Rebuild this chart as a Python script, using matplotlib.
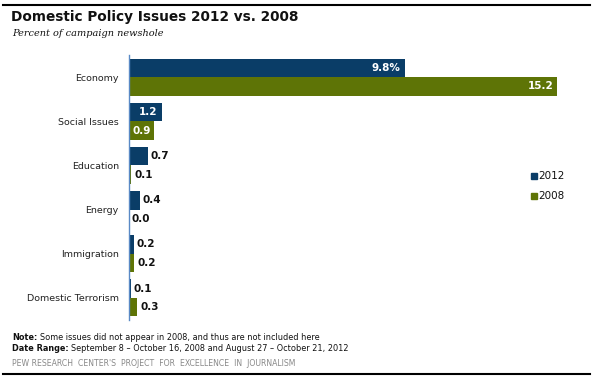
import matplotlib
matplotlib.use("Agg")
import matplotlib.pyplot as plt
from matplotlib.lines import Line2D
from matplotlib.patches import Rectangle

categories = ["Economy", "Social Issues", "Education", "Energy", "Immigration", "Domestic Terrorism"]
values_2012 = [9.8, 1.2, 0.7, 0.4, 0.2, 0.1]
values_2008 = [15.2, 0.9, 0.1, 0.0, 0.2, 0.3]
labels_2012 = ["9.8%", "1.2", "0.7", "0.4", "0.2", "0.1"]
labels_2008 = ["15.2", "0.9", "0.1", "0.0", "0.2", "0.3"]
series_names = ["2012", "2008"]

C2012 = "#0a3d67"
C2008 = "#5e7406"

W, H = 592, 382
fig = plt.figure(figsize=(W / 100, H / 100), dpi=100)

def fx(px):
    return px / W

def fy(py):
    return 1 - py / H

# axes: left 128.5 px, right 580 px; top 55 px, bottom 320 px
left, right, top, bottom = 128.5, 580.0, 55.0, 320.0
ax = fig.add_axes([fx(left), fy(bottom), fx(right - left), (bottom - top) / H])
scale = 28.2  # px per unit
ax.set_xlim(0, (right - left) / scale)
ax.set_ylim(5.5, -0.5)

bh = 0.42
ys = list(range(len(categories)))
ax.barh([y - bh / 2 for y in ys], values_2012, height=bh, color=C2012, label=series_names[0])
ax.barh([y + bh / 2 for y in ys], values_2008, height=bh, color=C2008, label=series_names[1])

fs_val = 7.5
for y, v, lab in zip(ys, values_2012, labels_2012):
    if v >= 1.0:
        ax.text(v - 0.17, y - bh / 2, lab, color="white", fontsize=fs_val, fontweight="bold",
                ha="right", va="center")
    else:
        ax.text(v + 0.08, y - bh / 2, lab, color="#111111", fontsize=fs_val, fontweight="bold",
                ha="left", va="center")
for y, v, lab in zip(ys, values_2008, labels_2008):
    if v >= 0.85:
        ax.text(v - 0.12, y + bh / 2, lab, color="white", fontsize=fs_val, fontweight="bold",
                ha="right", va="center")
    else:
        ax.text(v + 0.12, y + bh / 2, lab, color="#111111", fontsize=fs_val, fontweight="bold",
                ha="left", va="center")

ax.set_yticks(ys)
ax.set_yticklabels(categories, fontsize=6.8, color="#222222")
ax.tick_params(axis="y", length=0, pad=7)
ax.set_xticks([])
for s in ["top", "right", "bottom"]:
    ax.spines[s].set_visible(False)
ax.spines["left"].set_color("#5a8ac6")
ax.spines["left"].set_linewidth(1.0)

# legend
for i, (name, c) in enumerate(zip(series_names, [C2012, C2008])):
    ypx = 176 + 19.5 * i
    fig.patches.append(Rectangle((fx(531), fy(ypx + 3)), 6 / W, 6 / H, transform=fig.transFigure,
                                 color=c, figure=fig))
    fig.text(fx(538.5), fy(ypx), name, fontsize=7.5, color="#111111", va="center", ha="left")

# rules
fig.add_artist(Line2D([fx(3), fx(590)], [fy(5), fy(5)], color="black", lw=1.5, transform=fig.transFigure))
fig.add_artist(Line2D([fx(3), fx(590)], [fy(374), fy(374)], color="black", lw=1.5, transform=fig.transFigure))

# titles
fig.text(fx(11), fy(17.5), "Domestic Policy Issues 2012 vs. 2008", fontsize=9.8, fontweight="bold",
         color="#111111", va="center", ha="left")
fig.text(fx(12), fy(33), "Percent of campaign newshole", fontsize=7.0, style="italic",
         family="DejaVu Serif", color="#111111", va="center", ha="left")

# notes
fig.text(fx(12), fy(337), "Note:", fontsize=5.9, fontweight="bold", color="#111111", va="center")
fig.text(fx(40), fy(337), "Some issues did not appear in 2008, and thus are not included here",
         fontsize=5.9, color="#111111", va="center")
fig.text(fx(12), fy(348.5), "Date Range:", fontsize=5.9, fontweight="bold", color="#111111", va="center")
fig.text(fx(71), fy(348.5), "September 8 \u2013 October 16, 2008 and August 27 \u2013 October 21, 2012",
         fontsize=5.9, color="#111111", va="center")
fig.text(fx(12), fy(363), "PEW RESEARCH  CENTER'S  PROJECT  FOR  EXCELLENCE  IN  JOURNALISM",
         fontsize=5.6, color="#888888", va="center")

fig.savefig("out.png", dpi=100)
